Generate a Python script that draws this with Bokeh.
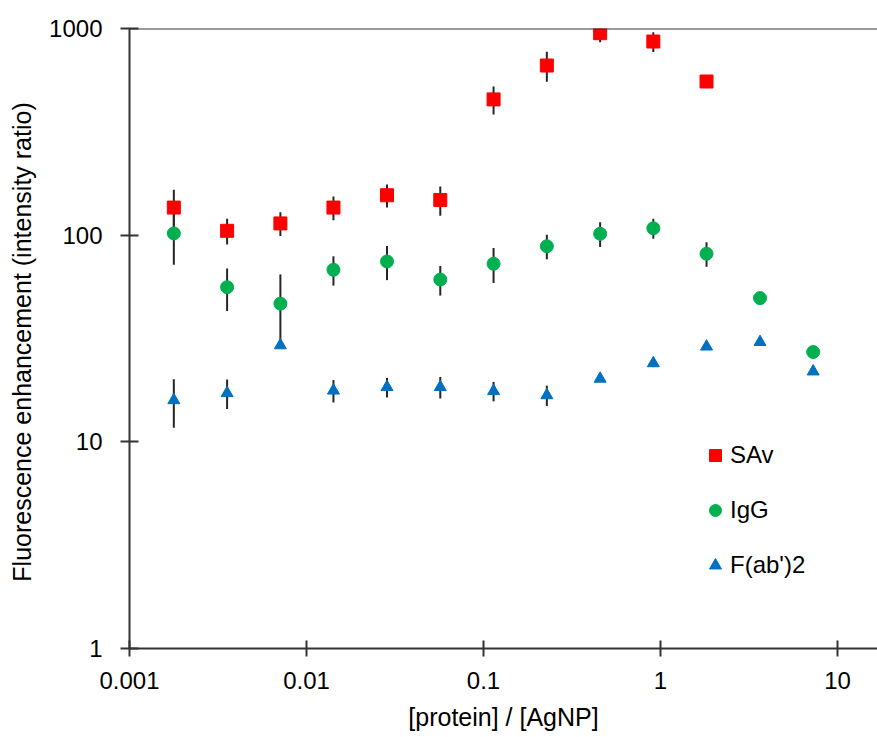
from bokeh.plotting import figure
from bokeh.models import FixedTicker, PrintfTickFormatter, Span, Legend, LegendItem, ColumnDataSource
from bokeh.embed import file_html
from bokeh.resources import INLINE

# ---- data ----
x_ratio = [0.00178, 0.00356, 0.00712, 0.0142, 0.0285, 0.057, 0.114, 0.228, 0.456, 0.911, 1.82, 3.65, 7.29]

sav_values = [136, 105, 114, 136, 156, 148, 454, 662, 949, 865, 554]
sav_errors = [30, 15, 15, 18, 20, 24, 70, 110, 90, 95, 15]

igg_values = [102, 56, 46.6, 68, 74.6, 61, 72.7, 88.4, 101.6, 108, 81.3, 49.6, 27.2]
igg_errors = [30, 13, 18, 11, 14, 10, 14, 12, 14, 12, 11, 2, 1]

fab_values = [15.9, 17.2, 29.3, 17.7, 18.4, 18.4, 17.6, 16.8, 20.2, 24.0, 28.9, 30.4, 21.9]
fab_errors = [4.2, 2.8, 0.5, 2.2, 2.0, 2.2, 1.9, 1.9, 0.5, 1.0, 1.0, 1.0, 0.8]

series_names = ["SAv", "IgG", "F(ab')2"]

x_ticks = [0.001, 0.01, 0.1, 1, 10]
x_tick_labels = ["0.001", "0.01", "0.1", "1", "10"]
y_ticks = [1, 10, 100, 1000]
y_tick_labels = ["1", "10", "100", "1000"]

x_title = "[protein] / [AgNP]"
y_title = "Fluorescence enhancement  (intensity ratio)"

FONT = "Liberation Sans"
AXIS_COLOR = "#333333"
ERR_COLOR = "#262626"


def make_source(xs, vals, errs):
    n = len(vals)
    xs = xs[:n]
    return ColumnDataSource(dict(
        x=xs, y=vals,
        lo=[v - e for v, e in zip(vals, errs)],
        hi=[v + e for v, e in zip(vals, errs)],
    ))


src_sav = make_source(x_ratio, sav_values, sav_errors)
src_igg = make_source(x_ratio, igg_values, igg_errors)
src_fab = make_source(x_ratio, fab_values, fab_errors)

p = figure(width=877, height=737, x_axis_type="log", y_axis_type="log",
           x_range=(0.001, 16.83), y_range=(1, 1000),
           output_backend="svg", toolbar_location=None,
           min_border_left=129, min_border_right=0, min_border_top=28, min_border_bottom=89)

p.xgrid.visible = False
p.ygrid.visible = False
p.outline_line_color = None
p.background_fill_color = "white"
p.border_fill_color = "white"

# error bars
for src in (src_sav, src_igg, src_fab):
    p.segment(x0="x", y0="lo", x1="x", y1="hi", source=src, line_color=ERR_COLOR, line_width=2)

r_sav = p.scatter("x", "y", source=src_sav, marker="square", size=13, fill_color="#FF0000", line_color="#FF0000")
r_igg = p.scatter("x", "y", source=src_igg, marker="circle", size=13, fill_color="#00B050", line_color="#00B050")
r_fab = p.scatter("x", "y", source=src_fab, marker="triangle", size=12, fill_color="#0070C0", line_color="#0070C0")

# top border line
p.add_layout(Span(location=1000, dimension="width", line_color=AXIS_COLOR, line_width=2))

xa = p.xaxis[0]
ya = p.yaxis[0]
xa.ticker = FixedTicker(ticks=x_ticks, minor_ticks=[])
ya.ticker = FixedTicker(ticks=y_ticks, minor_ticks=[])
xa.formatter = PrintfTickFormatter(format="%g")
ya.formatter = PrintfTickFormatter(format="%g")
xa.major_label_overrides = dict(zip(x_ticks, x_tick_labels))
ya.major_label_overrides = dict(zip(y_ticks, y_tick_labels))
xa.axis_label = x_title
ya.axis_label = y_title

for ax in (xa, ya):
    ax.axis_line_color = AXIS_COLOR
    ax.axis_line_width = 2
    ax.major_tick_line_color = AXIS_COLOR
    ax.major_tick_line_width = 2
    ax.minor_tick_line_color = None
    ax.major_label_text_font = FONT
    ax.major_label_text_font_size = "24px"
    ax.major_label_text_color = "black"
    ax.axis_label_text_font = FONT
    ax.axis_label_text_font_size = "25px"
    ax.axis_label_text_font_style = "normal"
    ax.axis_label_text_color = "black"

xa.major_tick_in = 8
xa.major_tick_out = 8
xa.major_label_standoff = 15
xa.axis_label_standoff = 11
ya.major_tick_in = 9
ya.major_tick_out = 9
ya.major_label_standoff = 18
ya.axis_label_standoff = 10

legend = Legend(items=[
    LegendItem(label=series_names[0], renderers=[r_sav]),
    LegendItem(label=series_names[1], renderers=[r_igg]),
    LegendItem(label=series_names[2], renderers=[r_fab]),
], location=(571, 67), orientation="vertical",
    glyph_width=30, glyph_height=32, label_standoff=0, spacing=23,
    padding=0, margin=0, border_line_color=None, background_fill_alpha=0,
    label_text_font=FONT, label_text_font_size="24px", label_text_color="black")
p.add_layout(legend)

open("out.html", "w").write(file_html(p, INLINE))
